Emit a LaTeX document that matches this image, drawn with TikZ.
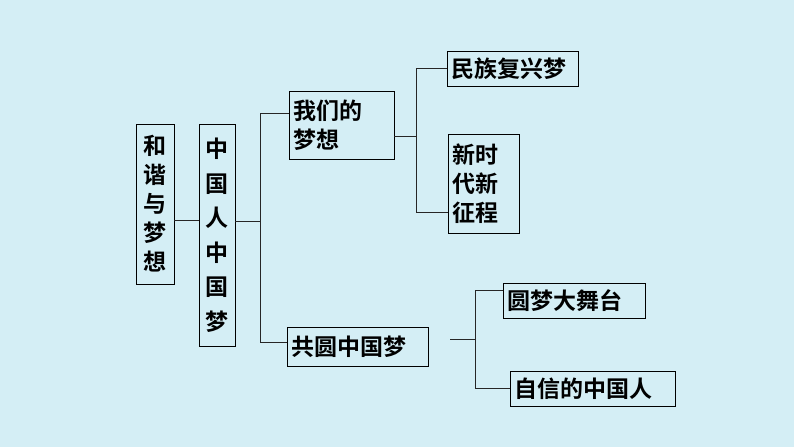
\documentclass[tikz,border=0pt]{standalone}
\usepackage{fontspec}
\newfontfamily\cjk{Noto Sans CJK SC}[BoldFont={Noto Sans CJK SC Bold}]
\begin{document}
\begin{tikzpicture}[x=1pt,y=-1pt,
  box/.style={draw=black,line width=0.8pt,fill=none,inner sep=0pt,font=\cjk\bfseries\fontsize{23}{29}\selectfont},
  ln/.style={line width=0.8pt,draw=black!85}]
\fill[fill={rgb,255:red,212;green,238;blue,245}] (0,0) rectangle (794,447);
\useasboundingbox (0,0) rectangle (794,447);
\node[box,minimum width=38pt,minimum height=160pt,align=center] (a) at (155,204) {和\\谐\\与\\梦\\想};
\node[box,minimum width=36pt,minimum height=222pt,align=center,font=\cjk\bfseries\fontsize{23}{34.5}\selectfont] (b) at (217,235) {中\\国\\人\\中\\国\\梦};
\node[box,minimum width=105pt,minimum height=68pt,align=left,text width=97pt] (c) at (341.5,125) {我们的\\梦想};
\node[box,minimum width=141pt,minimum height=39pt,align=left,text width=133pt] (d) at (357.5,346.5) {共圆中国梦};
\node[box,minimum width=131pt,minimum height=35pt,align=left,text width=123pt] (e) at (512.5,68.5) {民族复兴梦};
\node[box,minimum width=71pt,minimum height=99pt,align=left,text width=63pt] (f) at (483.5,183.5) {新时\\代新\\征程};
\node[box,minimum width=142pt,minimum height=35pt,align=left,text width=134pt] (g) at (574,300.5) {圆梦大舞台};
\node[box,minimum width=165pt,minimum height=35pt,align=left,text width=157pt] (h) at (592.5,388.5) {自信的中国人};
\coordinate (j1) at (260,221);
\coordinate (j2) at (416,136);
\coordinate (j3) at (475,339);
\draw[ln] (a.east|-0,220) -- (b.west|-0,220);
\draw[ln] (b.east|-j1) -- (j1);
\draw[ln] (c.west|-0,113) -- (260,113) -- (260,342) -- (d.west|-0,342);
\draw[ln] (c.east|-j2) -- (j2);
\draw[ln] (e.west) -- (416,68.5) -- (416,212) -- (f.west|-0,212);
\draw[ln] (450,339) -- (j3);
\draw[ln] (g.west|-0,290) -- (475,290) -- (475,388) -- (h.west|-0,388);
\end{tikzpicture}
\end{document}
